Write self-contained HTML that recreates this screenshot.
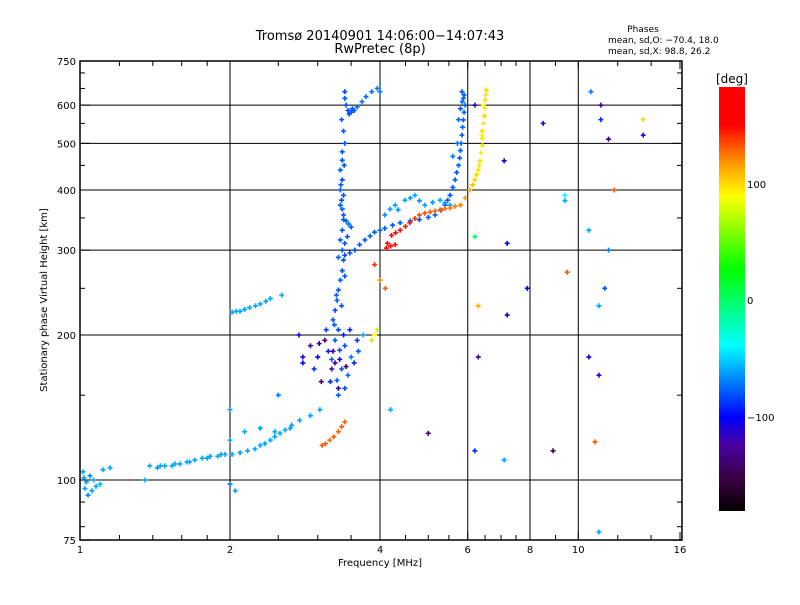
<!DOCTYPE html>
<html><head><meta charset="utf-8"><style>
body{margin:0;background:#fff}
svg text{font-family:"DejaVu Sans","Liberation Sans",sans-serif;font-size:10px;fill:#000}
</style></head><body>
<svg id="chart" width="800" height="600" xmlns="http://www.w3.org/2000/svg">
<defs>
<linearGradient id="cb" x1="0" y1="1" x2="0" y2="0">
<stop offset="0" stop-color="#000"/>
<stop offset="0.073" stop-color="#3a0040"/>
<stop offset="0.156" stop-color="#4a00a0"/>
<stop offset="0.222" stop-color="#0000ff"/>
<stop offset="0.39" stop-color="#00ffff"/>
<stop offset="0.57" stop-color="#00ff00"/>
<stop offset="0.743" stop-color="#ffff00"/>
<stop offset="0.82" stop-color="#ff9900"/>
<stop offset="0.91" stop-color="#ff0000"/>
<stop offset="1" stop-color="#ff0000"/>
</linearGradient>
</defs>
<g id="grid"></g>
<g id="marks"></g>
<rect x="80" y="61" width="602" height="479" fill="none" stroke="#000" stroke-width="1.5"/>
<g id="axes"></g>
<text x="380" y="40" text-anchor="middle" style="font-size:13px">Tromsø 20140901 14:06:00−14:07:43</text>
<text x="380" y="53" text-anchor="middle" style="font-size:13px">RwPretec (8p)</text>
<text x="643" y="32" text-anchor="middle" style="font-size:9px">Phases</text>
<text x="608" y="43" style="font-size:9px">mean, sd,O: −70.4, 18.0</text>
<text x="608" y="54" style="font-size:9px">mean, sd,X:  98.8, 26.2</text>
<text x="380" y="566" text-anchor="middle">Frequency [MHz]</text>
<text transform="translate(47,300) rotate(-90)" text-anchor="middle">Stationary phase Virtual Height [km]</text>
<rect x="719" y="87" width="26" height="424" fill="url(#cb)"/>
<text x="732" y="83" text-anchor="middle" style="font-size:12px">[deg]</text>
<text x="747" y="188">100</text>
<text x="747" y="304">0</text>
<text x="747" y="421">−100</text>
</svg>
<script>
const xTicks=[1,2,4,6,8,10,16];
const xMinor=[1.2,1.4,1.6,1.8,2.5,3,3.5,4.5,5,5.5,6.5,7,7.5,9,12,14];
const yTicks=[75,100,200,300,400,500,600,750];
const yGrid=[100,200,300,400,500,600];
const xGrid=[2,4,6,8,10];
// points: [freq MHz, height km, phase deg]
const ptsLowLeft=[[1.014,104,-60],[1.023,96,-60],[1.038,93,-65],[1.057,95,-60],[1.077,97,-60],[1.097,98,-55],[1.019,101,-60],[1.047,102,-65],[1.112,105,-60],[1.149,106,-60],[1.03,99,-62],[1.065,100,-60]];
const ptsLowTrace=[[1.38,107,-60],[1.43,106,-62],[1.48,107,-60],[1.53,107,-60],[1.587,108,-60],[1.64,109,-62],[1.70,110,-60],[1.76,111,-60],[1.825,112,-62],[1.89,112,-60],[1.955,113,-60],[2.02,113,-60],[2.095,114,-62],[2.17,115,-60],[2.245,116,-60],[2.30,118,-60],[2.35,119,-62],[2.41,121,-60],[2.46,123,-60],[2.52,125,-60],[2.58,127,-60],[2.66,130,-62],
[2.0,121,-60],[2.14,126,-60],[2.30,128,-62],[2.46,126,-60],[2.64,128,-60],[2.76,133,-60],[2.9,136,-62],[3.03,140,-60],[1.45,107,-60],[1.55,108,-60],[1.66,109,-60],[1.8,111,-60],[1.92,113,-60]];
const ptsUpperLeft=[[2.02,223,-62],[2.06,224,-60],[2.095,224,-60],[2.14,226,-62],[2.19,228,-60],[2.25,230,-60],[2.30,232,-60],[2.36,235,-62],[2.41,238,-60],[2.54,242,-60]];
const ptsMainVert=[[3.36,461,-82],[3.33,440,-78],[3.36,420,-82],[3.33,400,-78],[3.35,381,-82],[3.36,365,-78],[3.38,347,-80],[3.36,330,-82],[3.33,315,-78],[3.36,300,-82],[3.38,286,-80],[3.36,272,-82],[3.33,260,-78],[3.30,248,-82],[3.28,236,-78],[3.25,225,-82],[3.22,215,-80],[3.30,205,-82],[3.25,195,-78],[3.32,186,-82],[3.20,178,-80],[3.35,170,-82],[3.28,161,-78],[3.40,155,-82],[3.30,150,-78],
[3.35,560,-78],[3.38,530,-80],[3.40,500,-78],[3.36,480,-80],[3.42,345,-78],[3.46,340,-75],[3.50,335,-78],[3.44,320,-82],[3.38,355,-78],
[3.40,640,-82],[3.40,620,-78],[3.42,600,-80],[3.45,585,-82],[3.50,580,-78],[3.55,585,-80],[3.60,595,-75],[3.68,610,-72],[3.75,625,-75],[3.85,640,-72],[3.95,650,-70],[4.0,640,-72],[3.47,575,-82],[3.52,590,-78],
[3.39,450,-80],[3.34,410,-78],[3.38,390,-80],[3.33,372,-78],[3.4,310,-80],[3.3,290,-78],[3.4,265,-80],[3.27,242,-78],[3.35,230,-80],[3.24,210,-78]];
const ptsBlueCurve=[[3.40,293,-82],[3.48,296,-80],[3.56,300,-82],[3.64,308,-78],[3.73,315,-80],[3.82,321,-78],[3.90,327,-80],[4.0,330,-78],[4.09,333,-78],[4.24,338,-80],[4.39,342,-78],[4.6,345,-78],[4.8,347,-80],[5.0,351,-78],[5.16,355,-78],[5.3,363,-80],[5.4,372,-78],[5.47,381,-78],[5.53,390,-80],[5.6,405,-78],[5.66,420,-78],[5.7,435,-80],[5.75,450,-75],[5.78,466,-78],[5.8,483,-78],[5.82,500,-75],[5.84,520,-78],[5.86,540,-75],[5.88,559,-78],[5.9,580,-75],[5.93,600,-78],[5.88,620,-75],[5.84,640,-78],[5.75,560,-75],[5.72,500,-72],[5.6,470,-70],[5.9,630,-78],[5.85,610,-75],[5.8,590,-78]];
const ptsCyanBranch=[[4.09,355,-65],[4.19,365,-62],[4.29,372,-60],[4.35,364,-65],[4.49,381,-60],[4.6,385,-62],[4.70,390,-60],[4.8,380,-65],[4.92,372,-60],[5.1,377,-62],[5.28,381,-60],[5.4,376,-65],[5.53,372,-60]];
const ptsRedOrange=[[4.12,303,150],[4.2,306,150],[4.29,308,148],[4.14,310,150],[4.22,322,150],[4.3,326,150],[4.39,330,148],[4.5,336,145],[4.59,342,145],[4.7,349,140],[4.8,355,135],[4.92,358,130],[5.04,360,130],[5.16,362,128],[5.28,364,128],[5.4,366,125],[5.53,367,125],[5.66,370,122],[5.8,372,120],[5.93,385,115],[6.06,400,110],[6.13,410,105],[6.2,420,100],[6.25,430,100],[6.3,440,98],[6.33,450,95],[6.35,460,98],[6.38,478,95],[6.42,495,98],[6.42,512,95],[6.42,530,98],[6.45,550,95],[6.48,570,100],[6.5,592,95],[6.5,615,98],[6.52,630,95],[6.54,645,100],[6.45,600,90],[6.4,520,85]];
const ptsOrangeLow=[[3.06,118,130],[3.11,119,130],[3.17,121,128],[3.23,123,130],[3.3,126,128],[3.35,129,130],[3.40,132,128]];
const ptsCluster=[[2.75,200,-110],[2.9,190,-130],[3.0,180,-100],[3.1,195,-140],[3.2,170,-120],[3.15,185,-90],[3.25,175,-130],[3.4,190,-80],[3.5,180,-70],[3.6,195,-85],[3.55,175,-90],[3.05,160,-140],[3.3,155,-120],[3.45,165,-75],[2.8,175,-100],[3.7,200,-60],[3.9,200,90],[3.85,195,100],[3.95,205,70],[2.95,170,-90],[3.12,205,-85],[3.38,200,-95],[3.48,205,-90],[3.62,185,-80],[3.02,192,-120],[3.22,185,-130],[3.32,178,-110],[3.18,160,-90],[3.42,172,-140]];
const ptsSparse=[[6.2,600,-120],[6.3,230,110],[6.2,320,0],[7.1,460,-110],[7.2,310,-100],[8.5,550,-110],[9.4,380,-60],[9.4,390,-40],[9.5,270,130],[10.5,330,-60],[10.6,640,-70],[11.1,600,-130],[11.1,560,-90],[11.5,510,-140],[11.8,400,130],[13.5,560,100],[13.5,520,-110],[10.5,180,-110],[11.0,165,-110],[10.8,120,130],[11.0,78,-60],[7.9,250,-100],[7.2,220,-110],[6.3,180,-130],[8.9,115,-150],[5.0,125,-140],[4.2,140,-60],[6.2,115,-90],[7.1,110,-60],[2.0,98,-70],[2.05,95,-60],[1.35,100,-60],[2.0,140,-60],[2.5,150,-70],[2.8,180,-110],[4.1,250,130],[3.9,280,140],[4.0,260,120],[11.0,230,-60],[11.3,250,-80],[11.5,300,-70]];

const NS='http://www.w3.org/2000/svg';
function xs(f){return 80+150*Math.log2(f);}
function ys(h){return 480-145*Math.log2(h/100);}
const cStops=[[-180,[0,0,0]],[-155,[58,0,64]],[-125,[74,0,160]],[-100,[0,0,255]],[-39,[0,255,255]],[26,[0,255,0]],[89,[255,255,0]],[116,[255,153,0]],[150,[255,0,0]],[180,[255,0,0]]];
function col(p){p=Math.max(-180,Math.min(180,p));for(let i=0;i<cStops.length-1;i++){const a=cStops[i],b=cStops[i+1];if(p<=b[0]){const t=(p-a[0])/(b[0]-a[0]);const c=a[1].map((v,k)=>Math.round(v+(b[1][k]-v)*t));return 'rgb('+c.join(',')+')';}}return 'red';}
function mk(tag,attrs,parent){const e=document.createElementNS(NS,tag);for(const k in attrs)e.setAttribute(k,attrs[k]);parent.appendChild(e);return e;}
const grid=document.getElementById('grid'),axes=document.getElementById('axes'),marks=document.getElementById('marks');
xGrid.forEach(v=>{const l=mk('line',{x1:xs(v),x2:xs(v),y1:61,y2:540,stroke:'#000','stroke-width':1},grid);

});
yGrid.forEach(v=>{const l=mk('line',{x1:80,x2:682,y1:ys(v),y2:ys(v),stroke:'#000','stroke-width':1},grid);

});
xTicks.forEach(v=>{const t=mk('text',{x:xs(v),y:553,'text-anchor':'middle'},axes);t.textContent=v;


mk('line',{x1:xs(v),x2:xs(v),y1:540,y2:532,stroke:'#000'},axes);mk('line',{x1:xs(v),x2:xs(v),y1:61,y2:69,stroke:'#000'},axes);});
xMinor.forEach(v=>{mk('line',{x1:xs(v),x2:xs(v),y1:540,y2:535,stroke:'#000'},axes);mk('line',{x1:xs(v),x2:xs(v),y1:61,y2:66,stroke:'#000'},axes);});
yTicks.forEach(v=>{const y=Math.max(61,ys(v));const t=mk('text',{x:76,y:y+4,'text-anchor':'end'},axes);t.textContent=v;


mk('line',{x1:80,x2:90,y1:y,y2:y,stroke:'#000'},axes);mk('line',{x1:682,x2:672,y1:y,y2:y,stroke:'#000'},axes);});
[80,90,150,250,350,450,550,650,700].forEach(v=>{const y=ys(v);mk('line',{x1:80,x2:85,y1:y,y2:y,stroke:'#000'},axes);mk('line',{x1:682,x2:677,y1:y,y2:y,stroke:'#000'},axes);});
const all=[ptsLowLeft,ptsLowTrace,ptsUpperLeft,ptsMainVert,ptsBlueCurve,ptsCyanBranch,ptsRedOrange,ptsOrangeLow,ptsCluster,ptsSparse];
all.forEach(arr=>arr.forEach(p=>{const x=xs(p[0]),y=ys(p[1]),c=col(p[2]);
const g=mk('path',{d:`M${x-2.5} ${y}h5M${x} ${y-2.5}v5`,stroke:c,'stroke-width':1.6,fill:'none'},marks);

}));
</script>
</body></html>
